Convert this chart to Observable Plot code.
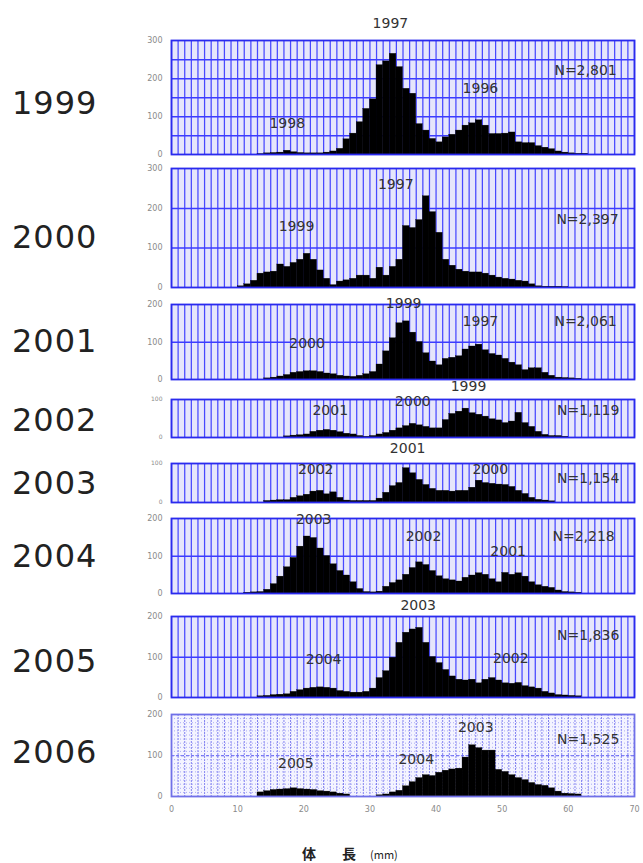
<!DOCTYPE html>
<html>
<head>
<meta charset="utf-8">
<script src="https://cdn.jsdelivr.net/npm/d3@7"></script>
<script src="https://cdn.jsdelivr.net/npm/@observablehq/plot@0.6"></script>
<style>
  html, body { margin: 0; padding: 0; background: #fff; }
  #chart { position: relative; width: 643px; height: 863px; overflow: hidden; font-family: "DejaVu Sans", sans-serif; }
  #chart svg { position: absolute; left: 0; }
  .year { position: absolute; left: 12px; font-family: "DejaVu Sans", sans-serif; font-size: 32px; letter-spacing: 1px; color: #222; line-height: 34px; }
  .xlab { position: absolute; top: 843px; font-family: "Noto Sans CJK JP", sans-serif; color: #222; }
</style>
</head>
<body>
<div id="chart"></div>
<script>
// ---- data: body-length frequency (1 mm bins), start = first bin (mm) ----
const years = ["1999", "2000", "2001", "2002", "2003", "2004", "2005", "2006"];

const start1999 = 13;
const counts1999 = [1,3,4,5,10,6,4,3,3,3,5,8,15,40,55,85,120,145,235,245,265,230,173,160,80,63,41,32,45,52,63,76,82,90,76,54,54,55,58,32,30,30,22,18,14,8,5,3,2,2];
const start2000 = 10;
const counts2000 = [3,8,17,35,38,40,58,52,62,70,85,70,43,22,6,15,18,22,30,30,22,50,30,52,70,155,150,170,230,190,138,70,55,45,40,38,38,35,30,25,22,20,17,15,8,3,2,2,2,1];
const start2001 = 14;
const counts2001 = [3,5,8,12,18,20,22,22,20,16,14,10,8,7,10,14,20,40,75,110,150,155,125,100,70,48,38,55,58,62,80,88,93,78,68,64,55,45,38,25,30,30,18,10,5,4,3,2];
const start2002 = 17;
const counts2002 = [3,5,6,8,15,18,20,18,14,10,8,4,2,4,8,12,18,24,30,36,32,28,24,24,46,62,68,76,64,60,55,48,45,38,42,65,38,28,15,7,4,4,2];
const start2003 = 14;
const counts2003 = [4,5,6,6,12,16,20,28,30,21,26,12,5,4,4,4,4,10,25,42,50,88,75,58,45,35,30,30,28,30,30,38,56,50,48,46,45,40,30,22,12,7,5,3];
const start2004 = 11;
const counts2004 = [2,3,4,10,25,45,70,95,125,152,148,120,100,78,60,48,30,12,4,3,5,18,28,35,50,68,83,76,60,46,38,35,32,42,48,54,50,38,30,55,50,54,45,30,22,18,15,8,4,3,2];
const start2005 = 13;
const counts2005 = [3,4,6,7,8,14,18,22,24,25,24,22,16,14,12,12,14,22,48,65,98,135,160,168,172,135,100,85,68,52,44,42,44,35,44,48,42,35,34,36,28,25,22,14,10,6,5,4,3];
const start2006 = 13;
const counts2006 = [10,13,16,17,18,20,18,17,16,13,12,10,7,5,0,0,0,0,3,5,10,14,25,35,45,52,50,58,63,66,68,95,125,118,112,112,65,60,52,45,40,33,28,26,20,12,7,6,5];

// ---- annotations (cohort labels and sample sizes), in data units ----
const annoText1999 = ["1997", "1998", "1996", "N=2,801"];
const annoX1999 = [33.1, 17.5, 46.7, 62.6];
const annoY1999 = [345, 81, 173, 221];
const annoText2000 = ["1997", "1999", "N=2,397"];
const annoX2000 = [33.9, 18.9, 62.9];
const annoY2000 = [259, 155, 172];
const annoText2001 = ["1999", "1997", "2000", "N=2,061"];
const annoX2001 = [35.1, 46.7, 20.5, 62.6];
const annoY2001 = [203, 155, 96, 155];
const annoText2002 = ["1999", "2001", "2000", "N=1,119"];
const annoX2002 = [44.9, 24, 36.5, 63];
const annoY2002 = [134, 70, 94, 70];
const annoText2003 = ["2001", "2002", "2000", "N=1,154"];
const annoX2003 = [35.7, 21.8, 48.2, 63];
const annoY2003 = [139, 85, 85, 62];
const annoText2004 = ["2003", "2002", "2001", "N=2,218"];
const annoX2004 = [21.5, 38.1, 50.9, 62.3];
const annoY2004 = [196, 152, 113, 152];
const annoText2005 = ["2003", "2004", "2002", "N=1,836"];
const annoX2005 = [37.3, 23, 51.3, 63];
const annoY2005 = [227, 93, 96, 153];
const annoText2006 = ["2005", "2004", "2003", "N=1,525"];
const annoX2006 = [18.8, 37, 46, 63];
const annoY2006 = [81, 89, 168, 139];

// axis
const yMax = [300, 300, 200, 100, 100, 200, 200, 200];
const yTicks = [[0,100,200,300],[0,100,200,300],[0,100,200],[0,100],[0,100],[0,100,200],[0,100,200],[0,100,200]];
const yGrid = [[50,100,150,200,250],[100,200],[100],[],[],[100],[100],[100]];
const xTicks = [0, 10, 20, 30, 40, 50, 60, 70];
const xLabel = "体　長　(mm)";

// ---- layout (page pixels) ----
const frameTop = [40, 168, 304, 399, 463, 518, 616, 714];
const frameBottom = [154, 287, 379, 437, 502, 593, 697, 796];
const yearCenter = [103, 237, 341, 420, 483, 556, 661, 752];

const starts = [start1999, start2000, start2001, start2002, start2003, start2004, start2005, start2006];
const countsAll = [counts1999, counts2000, counts2001, counts2002, counts2003, counts2004, counts2005, counts2006];
const annoT = [annoText1999, annoText2000, annoText2001, annoText2002, annoText2003, annoText2004, annoText2005, annoText2006];
const annoX = [annoX1999, annoX2000, annoX2001, annoX2002, annoX2003, annoX2004, annoX2005, annoX2006];
const annoY = [annoY1999, annoY2000, annoY2001, annoY2002, annoY2003, annoY2004, annoY2005, annoY2006];

const chart = document.getElementById("chart");
const mmLines = d3.range(0, 71);

years.forEach((yr, i) => {
  const last = i === years.length - 1;
  const mt = 32, mb = last ? 30 : 4;
  const bins = countsAll[i].map((n, k) => ({x1: starts[i] + k, x2: starts[i] + k + 1, n}));
  const anno = annoT[i].map((t, k) => ({t, x: annoX[i][k], y: annoY[i][k]}));
  const small = yMax[i] === 100;
  const marks = [
    Plot.frame({fill: last ? "#f4f4ff" : "#e6e6fb", stroke: null}),
    Plot.ruleX(mmLines, last
      ? {stroke: "#8080f0", strokeWidth: 1, strokeDasharray: "2,1"}
      : {stroke: "#3636ff", strokeWidth: 1.25, strokeOpacity: 0.9}),
  ];
  if (last) {
    marks.push(Plot.ruleY(d3.range(10, 200, 10), {stroke: "#9a9af4", strokeWidth: 1, strokeDasharray: "1,2", strokeOpacity: 0.8}));
  }
  marks.push(
    Plot.ruleY(yGrid[i], last
      ? {stroke: "#5a5af2", strokeWidth: 1, strokeDasharray: "3,2", dy: 0.25}
      : {stroke: "#3c3cff", strokeWidth: 1.5, dy: 0.25}),
    Plot.rectY(bins, {x1: "x1", x2: "x2", y: "n", fill: "black", stroke: "black", strokeWidth: 0.3}),
    Plot.frame({stroke: last ? "#7070e8" : "#2a2aee", strokeWidth: 1.8}),
    Plot.text(anno, {x: "x", y: "y", text: "t", fill: "#333", fontSize: 14, fontFamily: "DejaVu Sans", ariaLabel: "anno"})
  );
  const svg = Plot.plot({
    width: 643,
    height: (frameBottom[i] - frameTop[i]) + mt + mb,
    marginLeft: 171, marginRight: 9, marginTop: mt, marginBottom: mb,
    style: {background: "transparent", color: "#8a8a8a", fontFamily: "DejaVu Sans", fontSize: small ? "6px" : "8px", overflow: "visible"},
    x: {domain: [0, 70], axis: last ? "bottom" : null, ticks: xTicks, tickSize: 0, tickPadding: 10, label: null, tickFormat: d => String(d)},
    y: {domain: [0, yMax[i]], axis: "left", ticks: yTicks[i], tickSize: 0, tickPadding: 9, label: null, tickFormat: d => String(d)},
    marks
  });
  svg.style.top = (frameTop[i] - mt) + "px";
  chart.appendChild(svg);

  // white label boxes behind annotation texts
  svg.querySelectorAll('g[aria-label="anno"] text').forEach(t => {
    const b = t.getBBox();
    const r = document.createElementNS("http://www.w3.org/2000/svg", "rect");
    r.setAttribute("x", b.x - 2);
    r.setAttribute("y", b.y - 1);
    r.setAttribute("width", b.width + 4);
    r.setAttribute("height", b.height + 2);
    r.setAttribute("fill", "white");
    const tr = t.getAttribute("transform");
    if (tr) r.setAttribute("transform", tr);
    t.parentNode.insertBefore(r, t);
  });

  const lab = document.createElement("div");
  lab.className = "year";
  lab.textContent = yr;
  lab.style.top = (yearCenter[i] - 17) + "px";
  chart.appendChild(lab);
});

// x-axis title
const parts = xLabel.split("　");
const partLeft = [302, 342, 370];
parts.forEach((p, k) => {
  const s = document.createElement("div");
  s.className = "xlab";
  s.textContent = p;
  s.style.left = partLeft[k] + "px";
  s.style.fontSize = k < 2 ? "14px" : "11px";
  s.style.fontWeight = k < 2 ? "bold" : "normal";
  if (k === 2) s.style.top = "846px";
  chart.appendChild(s);
});
</script>
</body>
</html>
